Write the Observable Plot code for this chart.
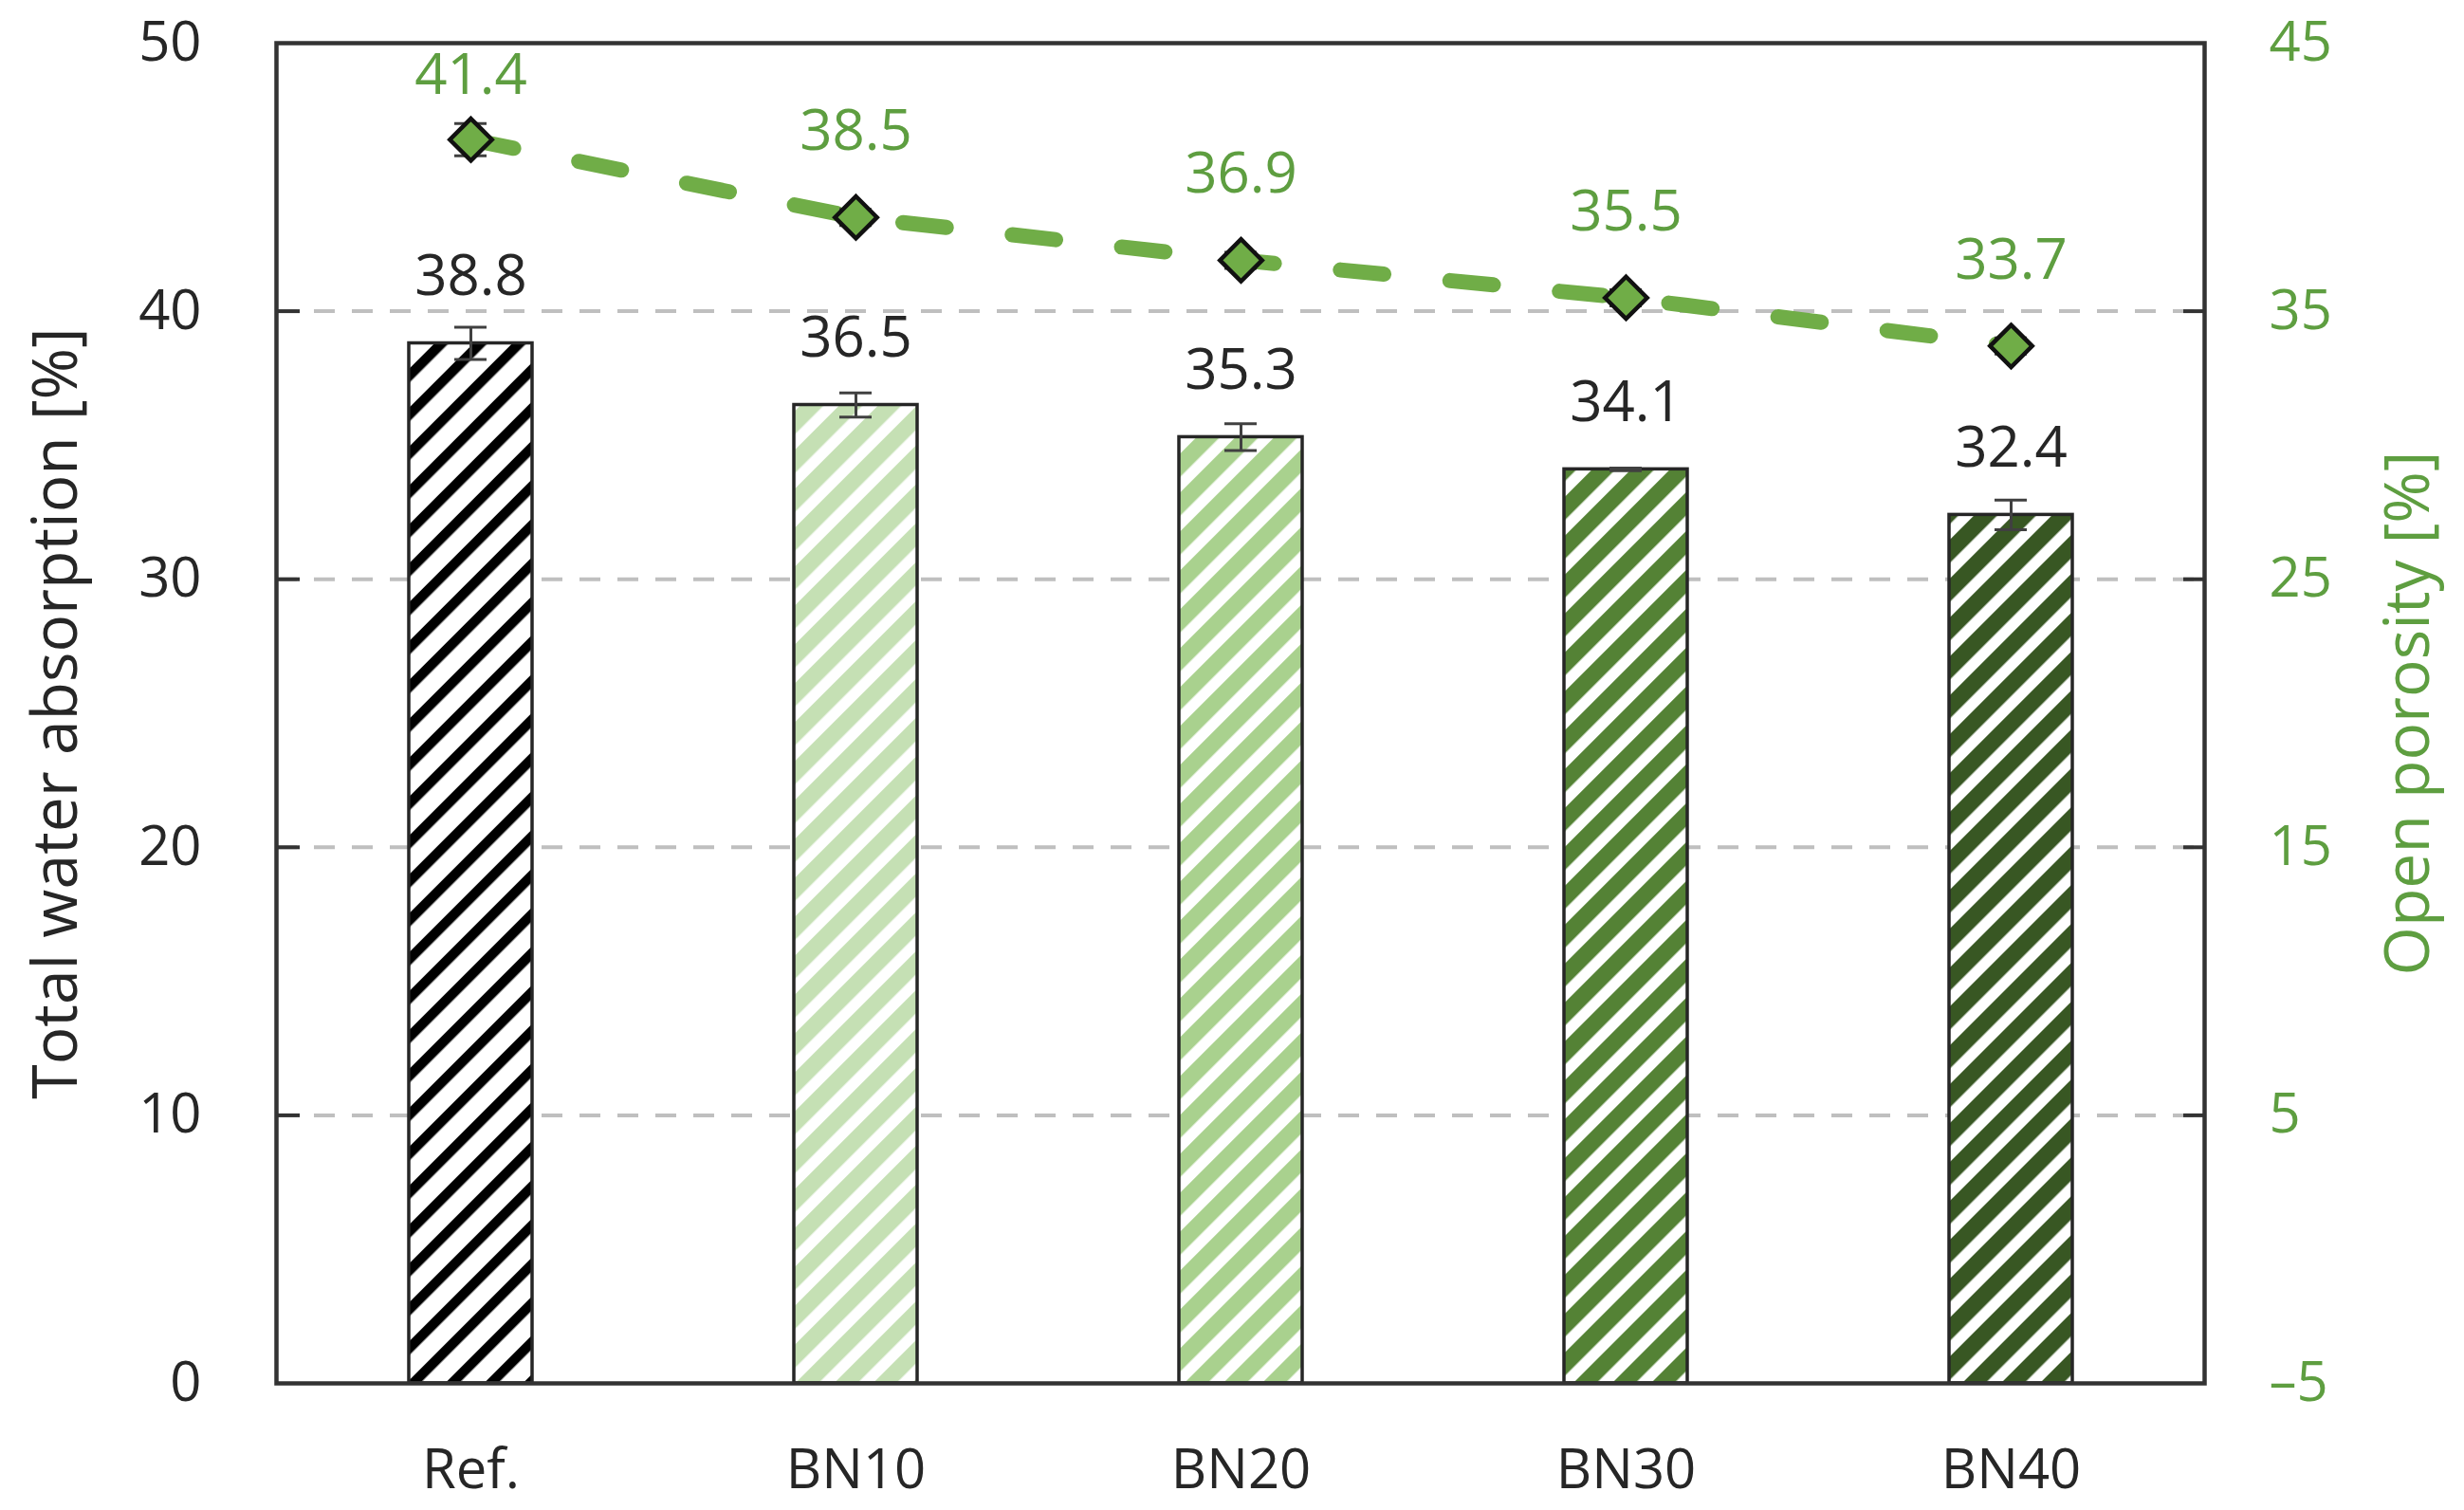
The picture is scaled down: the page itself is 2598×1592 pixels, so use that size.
<!DOCTYPE html>
<html>
<head>
<meta charset="utf-8">
<script src="https://cdn.jsdelivr.net/npm/d3@7"></script>
<script src="https://cdn.jsdelivr.net/npm/@observablehq/plot@0.6"></script>
<style>
  html, body { margin: 0; padding: 0; background: #ffffff; }
  #chart svg { display: block; }
</style>
</head>
<body>
<div id="chart"></div>
<script>
// ---- data ----
const categories = ["Ref.", "BN10", "BN20", "BN30", "BN40"];
const waterAbsorption = [38.8, 36.5, 35.3, 34.1, 32.4];
const waterAbsorptionErr = [0.6, 0.45, 0.5, 0.05, 0.55];
const openPorosity = [41.4, 38.5, 36.9, 35.5, 33.7];
const openPorosityErr = [0.6, 0.3, 0.3, 0.3, 0.3];
const barColors = ["#000000", "#c5e0b4", "#a9d18e", "#548235", "#385723"];
const leftTicks = [0, 10, 20, 30, 40, 50];
const gridTicks = [10, 20, 30, 40];
const rightOffset = 5; // right axis value = left axis value - 5

const data = categories.map((c, i) => ({
  cat: c, wa: waterAbsorption[i], waErr: waterAbsorptionErr[i],
  por: openPorosity[i], porErr: openPorosityErr[i], i
}));

const W = 2598, H = 1592;
const mL = 291, mR = 274, mT = 45, mB = 134;
const plotW = W - mL - mR;
const green = "#70ad47";
const greenText = "#5e9e40";
const dark = "#262626";
const font = "Open Sans";

const barMarks = categories.map((c, i) =>
  Plot.barY(data.filter(d => d.cat === c), {
    x: "cat", y: "wa", fill: `url(#hatch${i})`, stroke: "#262626", strokeWidth: 3.5
  })
);

const chart = Plot.plot({
  width: W, height: H,
  marginLeft: mL, marginRight: mR, marginTop: mT, marginBottom: mB,
  style: { fontFamily: font, background: "#ffffff" },
  x: { type: "band", domain: categories, paddingInner: 0.68, paddingOuter: 0.34, label: null },
  y: { domain: [0, 50], label: null },
  marks: [
    Plot.ruleY(gridTicks, { stroke: "#bfbfbf", strokeWidth: 4, strokeDasharray: "22,18" }),
    Plot.ruleY(gridTicks, { stroke: "#333333", strokeWidth: 4, insetRight: plotW - 25 }),
    Plot.ruleY(gridTicks, { stroke: "#333333", strokeWidth: 4, insetLeft: plotW - 22 }),
    ...barMarks,
    // error bars for water absorption
    Plot.ruleX(data, { x: "cat", y1: d => d.wa - d.waErr, y2: d => d.wa + d.waErr, stroke: "#404040", strokeWidth: 3 }),
    Plot.tickY(data, { x: "cat", y: d => d.wa + d.waErr, stroke: "#404040", strokeWidth: 3, inset: 48 }),
    Plot.tickY(data, { x: "cat", y: d => d.wa - d.waErr, stroke: "#404040", strokeWidth: 3, inset: 48 }),
    // porosity line
    Plot.line(data, { x: "cat", y: d => d.por + rightOffset, stroke: green, strokeWidth: 16,
      strokeDasharray: "46,70", strokeLinecap: "round" }),
    Plot.ruleX(data, { x: "cat", y1: d => d.por + rightOffset - d.porErr, y2: d => d.por + rightOffset + d.porErr, stroke: "#404040", strokeWidth: 3 }),
    Plot.tickY(data, { x: "cat", y: d => d.por + rightOffset + d.porErr, stroke: "#404040", strokeWidth: 3, inset: 48 }),
    Plot.tickY(data, { x: "cat", y: d => d.por + rightOffset - d.porErr, stroke: "#404040", strokeWidth: 3, inset: 48 }),
    Plot.dot(data, { x: "cat", y: d => d.por + rightOffset, symbol: "diamond2", r: 20,
      fill: green, stroke: "#111111", strokeWidth: 4.5 }),
    // value labels
    Plot.text(data, { x: "cat", y: "wa", text: d => d.wa.toFixed(1), dy: -70, fontSize: 60, fill: dark }),
    Plot.text(data, { x: "cat", y: d => Math.min(d.por + rightOffset + 3.2, 48.8), text: d => d.por.toFixed(1),
      fontSize: 60, fill: greenText }),
    // frame
    Plot.frame({ stroke: "#333333", strokeWidth: 4.5 }),
    // axes
    Plot.axisY({ anchor: "left", ticks: leftTicks, tickSize: 0, tickPadding: 79, fontSize: 58, fill: dark, label: null }),
    Plot.axisY({ anchor: "right", ticks: leftTicks, tickSize: 0, tickPadding: 68, fontSize: 58, fill: greenText, label: null,
      tickFormat: d => { const v = d - rightOffset; return v < 0 ? "–" + Math.abs(v) : String(v); } }),
    Plot.axisX({ tickSize: 0, tickPadding: 69, fontSize: 58, fill: dark, label: null }),
    // axis titles
    Plot.text(["Total water absorption [%]"], { frameAnchor: "left", dx: -232, rotate: -90, fontSize: 66,
      fill: dark, textAnchor: "middle", lineAnchor: "middle" }),
    Plot.text(["Open porosity [%]"], { frameAnchor: "right", dx: 215, rotate: -90, fontSize: 66,
      fill: greenText, textAnchor: "middle", lineAnchor: "middle" })
  ]
});

// hatch patterns
const svg = d3.select(chart);
const defs = svg.insert("defs", ":first-child");
const period = 29;
barColors.forEach((col, i) => {
  const frac = i === 0 ? 0.36 : 0.6;
  const p = defs.append("pattern")
    .attr("id", `hatch${i}`)
    .attr("patternUnits", "userSpaceOnUse")
    .attr("width", period).attr("height", period)
    .attr("patternTransform", "rotate(45)");
  p.append("rect").attr("width", period).attr("height", period).attr("fill", "#ffffff");
  p.append("rect").attr("width", period * frac).attr("height", period).attr("fill", col);
});

document.getElementById("chart").appendChild(chart);
</script>
</body>
</html>
